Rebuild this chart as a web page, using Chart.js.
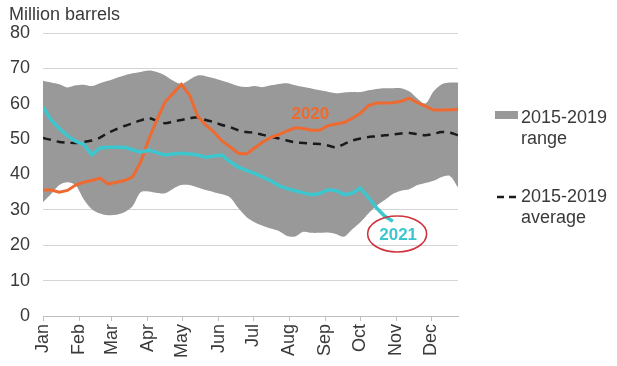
<!DOCTYPE html>
<html>
<head>
<meta charset="utf-8">
<script src="https://cdn.jsdelivr.net/npm/chart.js@4.4.1/dist/chart.umd.min.js"></script>
<style>
  html, body { margin: 0; padding: 0; background: #fff; }
  #wrap { width: 617px; height: 366px; position: relative; }
</style>
</head>
<body>
<div id="wrap"><canvas id="stocks"></canvas></div>
<script>
// Weekly observations, x = day of year of each week
const weekDay = Array.from({ length: 52 }, (_, i) => 1 + 7 * i);

const monthStartDay = [1, 32, 60, 91, 121, 152, 182, 213, 244, 274, 305, 335];
const monthLabels = ['Jan', 'Feb', 'Mar', 'Apr', 'May', 'Jun', 'Jul', 'Aug', 'Sep', 'Oct', 'Nov', 'Dec'];

const yTicks = [0, 10, 20, 30, 40, 50, 60, 70, 80];

// 2015-2019 range (max / min), million barrels
const rangeMax = [
    66.5, 66, 65.5, 64.6, 65.2, 65.4, 65, 65.8, 66.5, 67.3, 68, 68.6, 69,
    69.4, 69, 68, 66.5, 65.6, 66.8, 68, 67.8, 67.2, 66.5, 65.8, 65, 64.7,
    65, 64.7, 65.2, 65.6, 65.8, 65.2, 64.7, 64.3, 63.8, 63.4, 63, 63.2, 63.3,
    63.3, 63.8, 64.2, 64.4, 64.4, 64.4, 63.5, 61.5, 60, 63.5, 65.5, 66, 66
];
const rangeMin = [
    32.2, 34.5, 37, 37.8, 37, 33, 30.2, 29, 28.5, 28.6, 29.3, 31, 35,
    35.2, 34.8, 34.7, 36, 37, 37, 36.3, 35.6, 35, 34.4, 33.5, 30.5, 28,
    26.5, 25.5, 24.7, 24, 22.6, 22.5, 23.8, 23.5, 23.5, 23.6, 23.2, 22.4, 24.5,
    26.5, 29, 31.2, 32.8, 34.5, 35.4, 35.8, 37, 37.6, 38.2, 39.3, 39.6, 36.4
];
// 2015-2019 average
const average = [
    50.3, 49.8, 49.2, 49, 48.9, 49.2, 49.6, 50.4, 51.8, 52.8, 53.7, 54.5, 55.3,
    55.9, 55.2, 54.5, 55, 55.4, 55.9, 56.2, 55.4, 54.8, 54, 53.4, 52.5, 52,
    51.8, 51.2, 50.7, 50.2, 49.6, 49.1, 48.9, 48.7, 48.6, 48.2, 47.7, 48.6, 49.6,
    50.2, 50.6, 50.8, 51.1, 51.3, 51.6, 51.7, 51.4, 51.1, 51.5, 52, 51.8, 51.1
];
const y2020 = [
    35.6, 35.6, 35, 35.5, 37, 37.8, 38.3, 39, 37.3, 37.8, 38.3, 39.3, 43.5,
    50, 55.5, 60.5, 63, 65.5, 62.5, 56.5, 54, 52, 49.5, 47.8, 46, 45.8,
    47.5, 49.2, 50.5, 51.3, 52.3, 53.2, 53, 52.5, 52.5, 53.8, 54.3, 54.7, 55.9,
    57.3, 59.5, 60.2, 60.2, 60.3, 60.7, 61.6, 60.3, 59.3, 58.2, 58.2, 58.3, 58.4
];
// 2021 stops in late October
const y2021 = [
    59, 55.4, 53, 51, 49.4, 48.5, 45.6, 47.5, 47.7, 47.7, 47.7, 47, 46.3,
    46.9, 46.2, 45.5, 45.8, 46, 45.8, 45.5, 44.9, 45.2, 45.5, 43.6, 42.1, 41.2,
    40.3, 39.3, 38.2, 36.8, 36, 35.4, 34.8, 34.3, 34.6, 35.7, 35.5, 34.3, 34.7,
    36.2, 33.5, 30.5, 28.2, 26.8
];

const toPoints = (vals) => vals.map((v, i) => ({ x: weekDay[i], y: v }));

const textColor = '#3a3a3a';
const bandColor = '#999999';
const orange = '#EF6A30';
const cyan = '#3EC6CF';
const fontFamily = "'Liberation Sans', Arial, sans-serif";

// Title, series labels and the two-line legend on the right
const extras = {
    id: 'extras',
    afterDraw(chart) {
        const ctx = chart.ctx;
        const xs = chart.scales.x;
        const ys = chart.scales.y;
        ctx.save();
        ctx.textBaseline = 'middle';

        ctx.fillStyle = textColor;
        ctx.font = `18px ${fontFamily}`;
        ctx.textAlign = 'left';
        ctx.fillText('Million barrels', 9, 15);

        ctx.font = `bold 17px ${fontFamily}`;
        ctx.textAlign = 'center';
        ctx.fillStyle = orange;
        ctx.fillText('2020', xs.getPixelForValue(231), ys.getPixelForValue(57));
        const cx = xs.getPixelForValue(306.5);
        const cy = ys.getPixelForValue(22.9);
        ctx.fillStyle = cyan;
        ctx.fillText('2021', cx, cy);
        ctx.strokeStyle = '#D0343F';
        ctx.lineWidth = 1.6;
        ctx.beginPath();
        ctx.ellipse(cx - 1, cy - 1, 29.5, 18, 0, 0, Math.PI * 2);
        ctx.stroke();

        // legend
        ctx.textAlign = 'left';
        ctx.font = `18px ${fontFamily}`;
        ctx.fillStyle = bandColor;
        ctx.fillRect(495, 111, 23, 8);
        ctx.fillStyle = textColor;
        ctx.fillText('2015-2019', 521, 118);
        ctx.fillText('range', 521, 139);

        ctx.strokeStyle = '#1a1a1a';
        ctx.lineWidth = 2.5;
        ctx.setLineDash([7, 5]);
        ctx.beginPath();
        ctx.moveTo(497, 197);
        ctx.lineTo(519, 197);
        ctx.stroke();
        ctx.setLineDash([]);
        ctx.fillText('2015-2019', 521, 197);
        ctx.fillText('average', 521, 218);
        ctx.restore();
    }
};

new Chart(document.getElementById('stocks'), {
    type: 'line',
    data: {
        datasets: [
            {
                label: '2021',
                data: toPoints(y2021),
                borderColor: cyan,
                borderWidth: 3.5,
                pointRadius: 0,
                tension: 0,
                fill: false,
            },
            {
                label: '2020',
                data: toPoints(y2020),
                borderColor: orange,
                borderWidth: 3,
                pointRadius: 0,
                tension: 0,
                fill: false,
            },
            {
                label: '2015-2019 average',
                data: toPoints(average),
                borderColor: '#1a1a1a',
                borderWidth: 2.5,
                borderDash: [8, 6],
                pointRadius: 0,
                tension: 0.3,
                fill: false,
            },
            {
                label: '2015-2019 range',
                data: toPoints(rangeMax),
                borderWidth: 0,
                borderColor: bandColor,
                backgroundColor: bandColor,
                pointRadius: 0,
                tension: 0.3,
                fill: '+1',
            },
            {
                label: 'range min',
                data: toPoints(rangeMin),
                borderWidth: 0,
                borderColor: bandColor,
                pointRadius: 0,
                tension: 0.3,
                fill: false,
            },
        ]
    },
    options: {
        responsive: true,
        maintainAspectRatio: false,
        animation: false,
        layout: { padding: { top: 33, right: 159, left: 0, bottom: 0 } },
        plugins: {
            legend: { display: false },
            tooltip: { enabled: false },
        },
        scales: {
            x: {
                type: 'linear',
                min: 1,
                max: 358,
                afterBuildTicks: (scale) => {
                    scale.ticks = monthStartDay.map(v => ({ value: v }));
                },
                afterFit: (scale) => { scale.height = 50; },
                grid: {
                    drawOnChartArea: false,
                    drawTicks: true,
                    tickLength: 5,
                    color: '#bfbfbf',
                },
                border: { display: true, color: '#bfbfbf' },
                ticks: {
                    autoSkip: false,
                    maxRotation: 90,
                    minRotation: 90,
                    padding: 3,
                    color: textColor,
                    font: { family: fontFamily, size: 18 },
                    callback: (v) => monthLabels[monthStartDay.indexOf(v)] ?? '',
                },
            },
            y: {
                min: 0,
                max: 80,
                z: 1,
                afterBuildTicks: (scale) => {
                    scale.ticks = yTicks.map(v => ({ value: v }));
                },
                afterFit: (scale) => { scale.width = 43; },
                grid: {
                    color: 'rgba(0,0,0,0.17)',
                    drawTicks: false,
                },
                border: { display: false },
                ticks: {
                    padding: 13,
                    color: textColor,
                    font: { family: fontFamily, size: 18 },
                },
            },
        },
    },
    plugins: [extras],
});
</script>
</body>
</html>
